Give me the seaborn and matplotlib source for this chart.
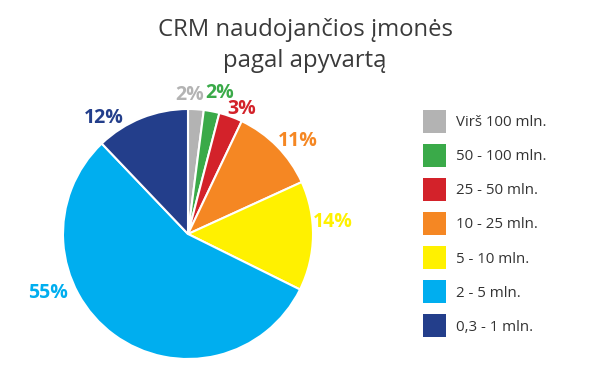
import matplotlib
matplotlib.use("Agg")
import matplotlib.pyplot as plt
from matplotlib.patches import Patch
import seaborn as sns
import numpy as np

categories = ["Virš 100 mln.", "50 - 100 mln.", "25 - 50 mln.", "10 - 25 mln.",
              "5 - 10 mln.", "2 - 5 mln.", "0,3 - 1 mln."]
values = [2, 2, 3, 11, 14, 55, 12]
pct_labels = ["2%", "2%", "3%", "11%", "14%", "55%", "12%"]
colors_hex = ["#B3B3B3", "#3AAA49", "#D3222A", "#F58723", "#FFF100", "#00AEEF", "#233E8B"]

# label placement style (angle in degrees, distance relative to radius)
label_angle = [89.2, 77.2, 67.0, 40.2, 4.7, -157.1, 125.9]
label_dist = [1.11, 1.16, 1.09, 1.15, 1.16, 1.22, 1.15]

sns.set_theme(style="white")
plt.rcParams["font.family"] = ["Open Sans", "DejaVu Sans"]

W, H = 612, 367
fig = plt.figure(figsize=(W / 100, H / 100), dpi=100)
fig.patch.set_facecolor("white")

cx, cy, r = 188, 367 - 234, 125
ax = fig.add_axes([(cx - r) / W, (cy - r) / H, 2 * r / W, 2 * r / H])
palette = sns.color_palette(colors_hex)
wedges, _ = ax.pie(values, colors=palette, startangle=90, counterclock=False,
                   radius=1.0,
                   wedgeprops=dict(edgecolor="white", linewidth=1.5))
ax.set_xlim(-1, 1)
ax.set_ylim(-1, 1)
ax.set_aspect("equal")
ax.axis("off")

for lab, ang, d, col in zip(pct_labels, label_angle, label_dist, colors_hex):
    t = np.deg2rad(ang)
    ax.text(d * np.cos(t), d * np.sin(t), lab, ha="center", va="center",
            fontsize=14, fontweight="bold", color=col, clip_on=False)

fig.text(305 / W, 1 - 30 / H, "CRM naudojančios įmonės", ha="center", va="center",
         fontsize=17.2, fontweight="normal", color="#3a3a3a")
fig.text(305 / W, 1 - 61 / H, "pagal apyvartą", ha="center", va="center",
         fontsize=17.2, fontweight="normal", color="#3a3a3a")

handles = [Patch(facecolor=c, edgecolor="none") for c in palette]
fs = 10.8
leg = fig.legend(handles, categories, loc="upper left",
                 bbox_to_anchor=(423 / W, 1 - 110 / H), frameon=False,
                 fontsize=fs, handlelength=1.53, handleheight=1.98,
                 labelspacing=0.74, handletextpad=0.68, borderpad=0,
                 borderaxespad=0)
for t in leg.get_texts():
    t.set_color("#333333")

fig.savefig("out.png", dpi=100, facecolor="white")
